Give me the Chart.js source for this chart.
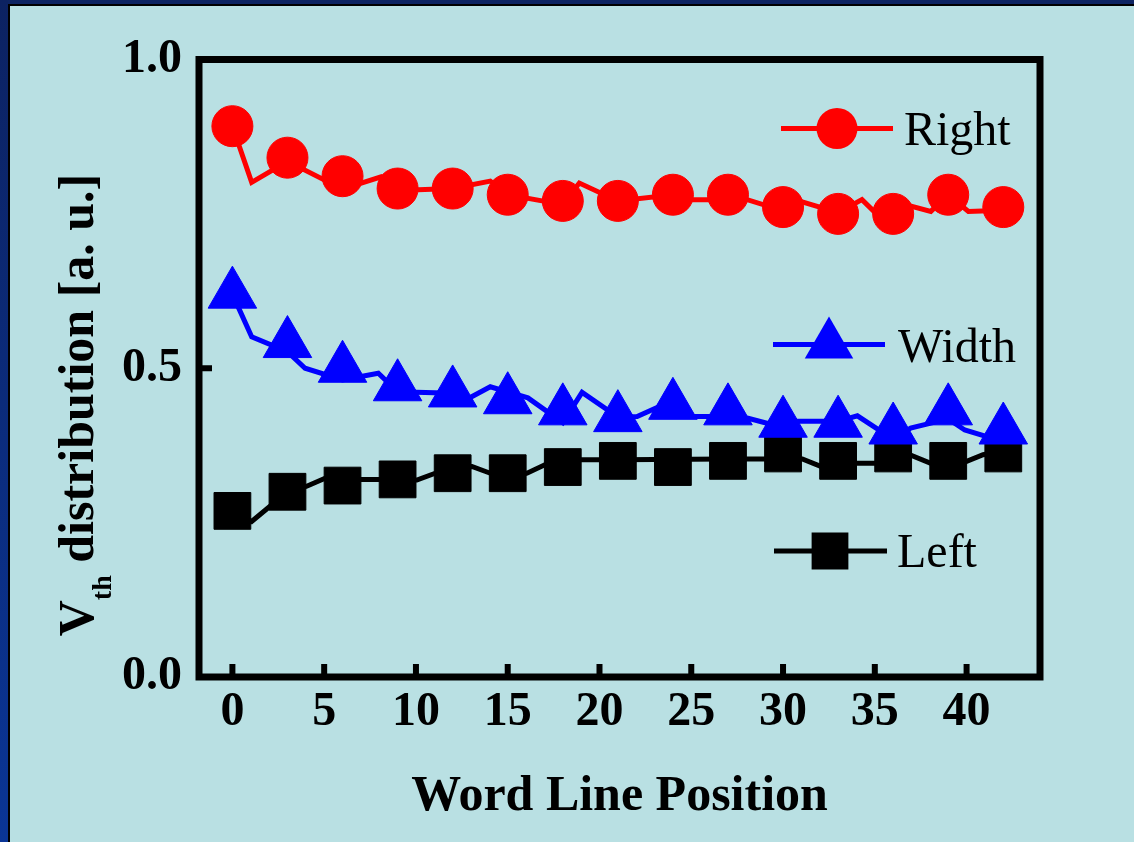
<!DOCTYPE html>
<html>
<head>
<meta charset="utf-8">
<script src="https://cdn.jsdelivr.net/npm/chart.js@4.4.1/dist/chart.umd.min.js"></script>
<style>
  html, body { margin: 0; padding: 0; background: #b9e0e3; }
  #wrap { width: 1134px; height: 842px; }
</style>
</head>
<body>
<div id="wrap"><canvas id="vthChart" width="1134" height="842"></canvas></div>
<script>
// Vth distribution vs word line position (Right / Width / Left)

// marker positions (every 3rd word line)
const markX = [0, 3, 6, 9, 12, 15, 18, 21, 24, 27, 30, 33, 36, 39, 42];
const rightVals = [0.892, 0.841, 0.811, 0.791, 0.791, 0.781, 0.771, 0.771, 0.781, 0.781, 0.761, 0.750, 0.750, 0.781, 0.761];
const widthVals = [0.620, 0.540, 0.500, 0.470, 0.460, 0.449, 0.431, 0.420, 0.440, 0.431, 0.411, 0.411, 0.400, 0.431, 0.400];
const leftVals  = [0.269, 0.300, 0.310, 0.320, 0.330, 0.330, 0.340, 0.350, 0.340, 0.350, 0.362, 0.350, 0.362, 0.350, 0.362];

// connecting lines (denser, partly hidden under the symbols)
const rightLineX = [0, 1.05, 3, 6, 8.1, 9, 12, 14.05, 15, 18, 18.9, 21, 24, 24.5, 27, 28.05, 30, 30.3, 33, 34.3, 35.5, 36.3, 38.05, 39, 40.1, 42];
const rightLineY = [0.892, 0.801, 0.835, 0.790, 0.810, 0.788, 0.791, 0.803, 0.781, 0.765, 0.800, 0.771, 0.781, 0.773, 0.773, 0.773, 0.755, 0.776, 0.752, 0.773, 0.738, 0.768, 0.754, 0.781, 0.754, 0.756];
const widthLineX = [0, 1.05, 3, 3.96, 6, 7.95, 9, 11.5, 12.3, 14.05, 16.1, 18, 19.05, 21, 22.05, 24, 24.6, 27, 28.1, 30, 30.5, 33, 34.05, 36, 36.95, 39, 39.9, 42];
const widthLineY = [0.620, 0.551, 0.527, 0.500, 0.481, 0.492, 0.462, 0.460, 0.442, 0.470, 0.452, 0.412, 0.461, 0.421, 0.422, 0.448, 0.422, 0.422, 0.419, 0.404, 0.414, 0.414, 0.423, 0.385, 0.403, 0.418, 0.400, 0.381];
const leftLineX = [0, 1.05, 3, 4.05, 5.05, 6, 9, 10.05, 11.05, 12, 13.05, 14.05, 15, 16.05, 17.05, 18, 21, 27, 30, 31.05, 32.05, 33, 33.8, 36, 36.9, 38.05, 39, 39.9, 40.9, 42];
const leftLineY = [0.269, 0.252, 0.300, 0.309, 0.322, 0.320, 0.320, 0.319, 0.330, 0.340, 0.341, 0.330, 0.322, 0.330, 0.344, 0.352, 0.352, 0.353, 0.353, 0.353, 0.341, 0.335, 0.346, 0.346, 0.360, 0.346, 0.340, 0.348, 0.360, 0.366];

const xTickValues = [0, 5, 10, 15, 20, 25, 30, 35, 40];
const yTickValues = [0, 0.5, 1.0];

const SERIF = '"Liberation Serif", "Times New Roman", serif';

function toPoints(xs, ys) {
  return xs.map((x, i) => ({ x: x, y: ys[i] }));
}

function markerSet(label, vals, color, style, radius, order) {
  return {
    label: label,
    data: toPoints(markX, vals),
    showLine: false,
    pointStyle: style,
    pointRadius: radius,
    pointHoverRadius: radius,
    pointBackgroundColor: color,
    pointBorderColor: color,
    pointBorderWidth: 1,
    order: order
  };
}

function lineSet(xs, ys, color, order) {
  return {
    label: '',
    data: toPoints(xs, ys),
    showLine: true,
    borderColor: color,
    borderWidth: 5,
    pointRadius: 0,
    tension: 0,
    order: order
  };
}

// draws a symbol the same way chart.js shapes it
function drawSymbol(ctx, style, x, y, r, color) {
  ctx.save();
  ctx.fillStyle = color;
  ctx.beginPath();
  if (style === 'circle') {
    ctx.arc(x, y, r, 0, Math.PI * 2);
  } else if (style === 'triangle') {
    let a = 0;
    ctx.moveTo(x + Math.sin(a) * r, y - Math.cos(a) * r);
    a += 2 * Math.PI / 3;
    ctx.lineTo(x + Math.sin(a) * r, y - Math.cos(a) * r);
    a += 2 * Math.PI / 3;
    ctx.lineTo(x + Math.sin(a) * r, y - Math.cos(a) * r);
    ctx.closePath();
  } else {
    const s = r * Math.SQRT1_2;
    ctx.rect(x - s, y - s, 2 * s, 2 * s);
  }
  ctx.fill();
  ctx.restore();
}

const framePlugin = {
  id: 'frame',
  beforeDraw(chart) {
    const ctx = chart.ctx;
    const w = chart.width, h = chart.height;
    ctx.save();
    ctx.fillStyle = '#b9e0e3';
    ctx.fillRect(0, 0, w, h);
    ctx.fillStyle = '#0d2462';
    ctx.fillRect(0, 0, w, 4);
    const g = ctx.createLinearGradient(0, 0, 0, h);
    g.addColorStop(0, '#0c2262');
    g.addColorStop(1, '#0a3596');
    ctx.fillStyle = g;
    ctx.fillRect(0, 0, 8, h);
    ctx.fillStyle = '#000';
    ctx.fillRect(8, 4, w - 8, 2);
    ctx.fillRect(8, 4, 2, h - 4);
    ctx.restore();
  },
  afterDraw(chart) {
    const ctx = chart.ctx;
    const a = chart.chartArea;
    const xs = chart.scales.x, ys = chart.scales.y;
    ctx.save();
    ctx.strokeStyle = '#000';
    ctx.lineWidth = 7;
    ctx.strokeRect(a.left, a.top, a.right - a.left, a.bottom - a.top);

    // inward ticks
    ctx.lineWidth = 6;
    ctx.beginPath();
    xTickValues.forEach(v => {
      const px = xs.getPixelForValue(v);
      ctx.moveTo(px, a.bottom - 3);
      ctx.lineTo(px, a.bottom - 13);
    });
    yTickValues.forEach(v => {
      const py = ys.getPixelForValue(v);
      ctx.moveTo(a.left + 3, py);
      ctx.lineTo(a.left + 13, py);
    });
    ctx.stroke();

    // x title
    ctx.fillStyle = '#000';
    ctx.font = 'bold 50px ' + SERIF;
    ctx.textAlign = 'center';
    ctx.textBaseline = 'alphabetic';
    ctx.fillText('Word Line Position', (a.left + a.right) / 2, 810);

    // y title with subscript
    const mainFont = 'bold 50px ' + SERIF;
    const subFont = 'bold 28px ' + SERIF;
    const parts = [
      { t: 'V', f: mainFont, dy: 0 },
      { t: 'th', f: subFont, dy: 18 },
      { t: ' distribution [a. u.]', f: mainFont, dy: 0 }
    ];
    let total = 0;
    parts.forEach(p => { ctx.font = p.f; p.w = ctx.measureText(p.t).width; total += p.w; });
    ctx.translate(93, 405);
    ctx.rotate(-Math.PI / 2);
    ctx.textAlign = 'left';
    let cx = -total / 2;
    parts.forEach(p => {
      ctx.font = p.f;
      ctx.fillText(p.t, cx, p.dy);
      cx += p.w;
    });
    ctx.restore();
  }
};

// legend entries placed inside the plot like the original figure
const legendRows = [
  { label: 'Right', color: '#ff0000', style: 'circle', r: 20.5, y: 128.5, x1: 781, x2: 893, mx: 837, tx: 904, ty: 145 },
  { label: 'Width', color: '#0000ff', style: 'triangle', r: 28, y: 344.5, x1: 773, x2: 885, mx: 829, tx: 898, ty: 362 },
  { label: 'Left', color: '#000000', style: 'rect', r: 26, y: 551, x1: 774, x2: 887, mx: 830, tx: 897, ty: 567 }
];

const legendPlugin = {
  id: 'insideLegend',
  afterDatasetsDraw(chart) {
    const ctx = chart.ctx;
    ctx.save();
    legendRows.forEach(row => {
      ctx.strokeStyle = row.color;
      ctx.lineWidth = 5;
      ctx.beginPath();
      ctx.moveTo(row.x1, row.y);
      ctx.lineTo(row.x2, row.y);
      ctx.stroke();
      drawSymbol(ctx, row.style, row.mx, row.y, row.r, row.color);
      ctx.fillStyle = '#000';
      ctx.font = '48px ' + SERIF;
      ctx.textAlign = 'left';
      ctx.textBaseline = 'alphabetic';
      ctx.fillText(row.label, row.tx, row.ty);
    });
    ctx.restore();
  }
};

const ctx = document.getElementById('vthChart').getContext('2d');
window.vthChart = new Chart(ctx, {
  type: 'scatter',
  data: {
    datasets: [
      markerSet('Right', rightVals, '#ff0000', 'circle', 20.5, 0),
      lineSet(rightLineX, rightLineY, '#ff0000', 1),
      markerSet('Width', widthVals, '#0000ff', 'triangle', 28, 2),
      lineSet(widthLineX, widthLineY, '#0000ff', 3),
      markerSet('Left', leftVals, '#000000', 'rect', 26, 4),
      lineSet(leftLineX, leftLineY, '#000000', 5)
    ]
  },
  options: {
    responsive: false,
    animation: false,
    layout: { padding: { top: 59.5, right: 94, bottom: 0, left: 0 } },
    plugins: { legend: { display: false }, tooltip: { enabled: false } },
    scales: {
      x: {
        type: 'linear',
        min: -1.82,
        max: 44,
        grid: { display: false, drawTicks: false },
        border: { display: false },
        afterBuildTicks: s => { s.ticks = xTickValues.map(v => ({ value: v })); },
        afterFit: s => { s.height = 165; s.paddingLeft = 0; s.paddingRight = 0; },
        ticks: {
          color: '#000',
          padding: 7,
          maxRotation: 0,
          autoSkip: false,
          font: { family: SERIF, size: 48, weight: 'bold' }
        }
      },
      y: {
        type: 'linear',
        min: 0,
        max: 1,
        grid: { display: false, drawTicks: false },
        border: { display: false },
        afterBuildTicks: s => { s.ticks = yTickValues.map(v => ({ value: v })); },
        afterFit: s => { s.width = 199; s.paddingTop = 0; s.paddingBottom = 0; },
        ticks: {
          color: '#000',
          padding: 17,
          font: { family: SERIF, size: 48, weight: 'bold' },
          callback: v => Number(v).toFixed(1)
        }
      }
    }
  },
  plugins: [framePlugin, legendPlugin]
});
</script>
</body>
</html>
